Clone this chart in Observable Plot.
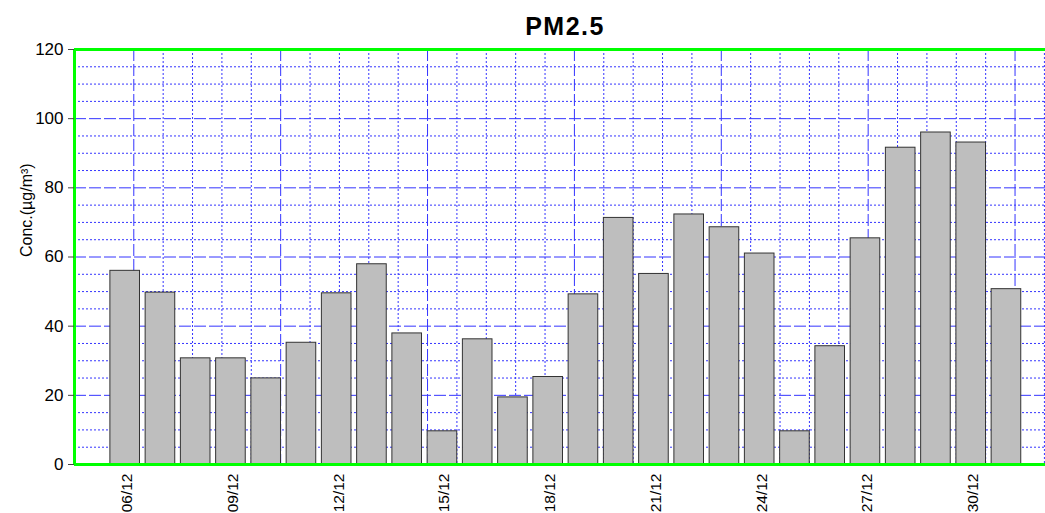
<!DOCTYPE html>
<html><head><meta charset="utf-8">
<script src="https://cdn.jsdelivr.net/npm/d3@7"></script>
<script src="https://cdn.jsdelivr.net/npm/@observablehq/plot@0.6"></script>
<style>body{margin:0;background:#fff} .ttl text{letter-spacing:1.5px}</style>
</head><body><div id="chart"></div>
<script>
const days = [6,7,8,9,10,11,12,13,14,15,16,17,18,19,20,21,22,23,24,25,26,27,28,29,30,31];
const pm25 = [56.0,49.7,30.7,30.7,24.9,35.2,49.5,57.9,37.9,9.6,36.2,19.4,25.3,49.2,71.3,55.1,72.3,68.6,61.0,9.6,34.2,65.4,91.6,96.0,93.1,50.7];
const xTicks = [6,9,12,15,18,21,24,27,30];
const yTicks = [0,20,40,60,80,100,120];
const title = "PM2.5";
const yLabel = "Conc.(µg/m³)";

const data = days.map((d, i) => ({day: d, value: pm25[i]}));
const xLo = 4.562, xHi = 32.108;
const yMajor = [20,40,60,80,100];
const yMinor = d3.range(5, 120, 5).filter(v => v % 20 !== 0);
const xMajor = d3.range(6.244, xHi, 25/6);
const xMinor = d3.range(6.244, xHi, 5/6).filter((v, i) => i % 5 !== 0);
const gridColor = "#3434ff";

const chart = Plot.plot({
  width: 1045, height: 513,
  marginLeft: 74, marginRight: 0, marginTop: 49, marginBottom: 49,
  x: {type: "linear", domain: [xLo, xHi]},
  y: {domain: [0, 120]},
  style: {fontFamily: "'Liberation Sans', Arial, sans-serif", background: "#fff", color: "#000"},
  marks: [
    Plot.ruleY(yMinor, {stroke: gridColor, strokeDasharray: "2,2", strokeWidth: 1}),
    Plot.ruleX(xMinor, {stroke: gridColor, strokeDasharray: "2,2", strokeWidth: 1}),
    Plot.ruleY(yMajor, {stroke: gridColor, strokeDasharray: "12,3", strokeWidth: 1}),
    Plot.ruleX(xMajor, {stroke: gridColor, strokeDasharray: "12,3", strokeWidth: 1}),
    Plot.rect(data, {x1: d => d.day - 0.42, x2: d => d.day + 0.42, y1: 0, y2: "value", fill: "#bebebe", stroke: "#333", strokeWidth: 1}),
    Plot.ruleY([0, 120], {stroke: "#00ff00", strokeWidth: 3}),
    Plot.ruleX([xLo], {stroke: "#00ff00", strokeWidth: 3}),
    Plot.axisY({ticks: yTicks, tickSize: 6, tickPadding: 5, fontSize: 17, label: null, stroke: "#444"}),
    Plot.axisX({ticks: xTicks, tickFormat: d => String(d).padStart(2, "0") + "/12", tickRotate: -90, tickSize: 0, tickPadding: 9, fontSize: 15.5, label: null, dx: 2}),
    Plot.text([title], {text: d => d, frameAnchor: "top", dy: -23, dx: 5, lineAnchor: "middle", fontSize: 25, fontWeight: "bold", className: "ttl"}),
    Plot.text([yLabel], {text: d => d, frameAnchor: "left", dx: -48, rotate: -90, lineAnchor: "middle", fontSize: 16})
  ]
});
document.getElementById("chart").appendChild(chart);
</script>
</body></html>
